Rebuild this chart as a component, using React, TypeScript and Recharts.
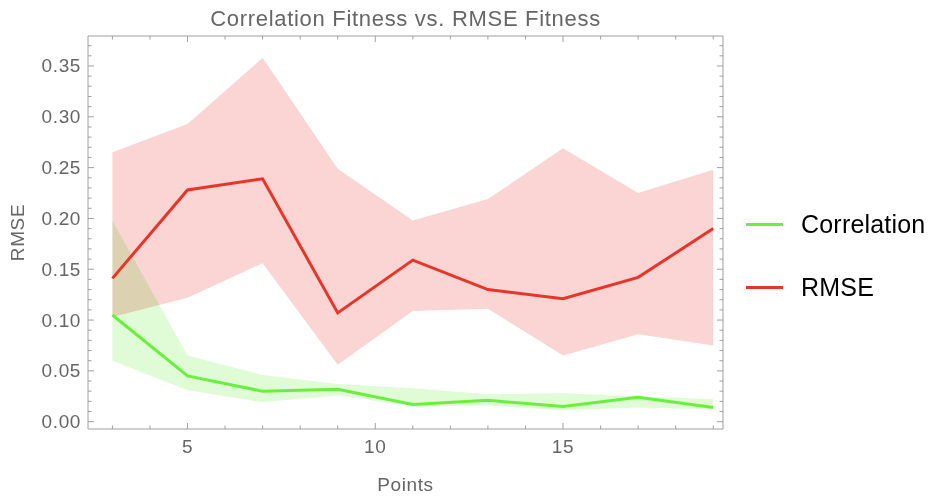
import React from 'react';
import { Area, ComposedChart, Line, XAxis, YAxis } from 'recharts';

const points = [3, 5, 7, 9, 11, 13, 15, 17, 19];

const rmseMean = [0.141, 0.228, 0.239, 0.107, 0.159, 0.13, 0.121, 0.142, 0.19];
const rmseHigh = [0.265, 0.293, 0.358, 0.249, 0.198, 0.219, 0.269, 0.225, 0.248];
const rmseLow = [0.103, 0.122, 0.156, 0.056, 0.109, 0.111, 0.065, 0.086, 0.075];

const corrMean = [0.105, 0.045, 0.03, 0.032, 0.017, 0.021, 0.015, 0.024, 0.014];
const corrHigh = [0.198, 0.065, 0.046, 0.037, 0.033, 0.027, 0.028, 0.025, 0.022];
const corrLow = [0.06, 0.031, 0.019, 0.026, 0.015, 0.016, 0.011, 0.014, 0.012];

const xTicks = [3, 4, 5, 6, 7, 8, 9, 10, 11, 12, 13, 14, 15, 16, 17, 18, 19];
const xMajor = [5, 10, 15];
const yMajor = [0, 0.05, 0.1, 0.15, 0.2, 0.25, 0.3, 0.35];
const yTicks = Array.from({ length: 38 }, (_, i) => Number((i / 100).toFixed(2)));

const legendItems = [
  { name: 'Correlation', color: '#68f03c' },
  { name: 'RMSE', color: '#e8352a' }
];

const data = points.map((x, i) => ({
  x,
  rmse: rmseMean[i],
  rmseBand: [rmseLow[i], rmseHigh[i]],
  corr: corrMean[i],
  corrBand: [corrLow[i], corrHigh[i]]
}));

const FONT = '"Liberation Sans", Arial, sans-serif';
const FRAME = '#a0a0a0';
const TEXT = '#666666';
const X_DOMAIN = [2.35, 19.26];
const Y_DOMAIN = [-0.0072, 0.3795];

const isYMajor = (v: number) => yMajor.some((m) => Math.abs(m - v) < 1e-6);

const tickText = { fill: TEXT, fontSize: 19, fontFamily: FONT, letterSpacing: 0.6 };

function BottomTick({ x, y, payload }: any) {
  const major = xMajor.includes(payload.value);
  return (
    <g>
      <line x1={x} x2={x} y1={y} y2={y - (major ? 6 : 3.5)} stroke={FRAME} />
      {major && (
        <text x={x} y={y + 17} textAnchor="middle" dominantBaseline="central" {...tickText}>
          {payload.value}
        </text>
      )}
    </g>
  );
}

function TopTick({ x, y, payload }: any) {
  const major = xMajor.includes(payload.value);
  return <line x1={x} x2={x} y1={y} y2={y + (major ? 6 : 3.5)} stroke={FRAME} />;
}

function LeftTick({ x, y, payload }: any) {
  const major = isYMajor(payload.value);
  return (
    <g>
      <line x1={x} x2={x + (major ? 6 : 3.5)} y1={y} y2={y} stroke={FRAME} />
      {major && (
        <text x={x - 7} y={y} textAnchor="end" dominantBaseline="central" {...tickText}>
          {payload.value.toFixed(2)}
        </text>
      )}
    </g>
  );
}

function RightTick({ x, y, payload }: any) {
  const major = isYMajor(payload.value);
  return <line x1={x} x2={x - (major ? 6 : 3.5)} y1={y} y2={y} stroke={FRAME} />;
}

export default function App() {
  return (
    <div style={{ position: 'absolute', left: 0, top: 0, width: 940, height: 500, background: '#fff', fontFamily: FONT }}>
      <style>{'.band-blend { mix-blend-mode: multiply; }'}</style>
      <div
        style={{
          position: 'absolute',
          left: 88,
          top: 5,
          width: 635,
          textAlign: 'center',
          fontSize: 22,
          letterSpacing: 0.7,
          lineHeight: '28px',
          color: TEXT
        }}
      >
        Correlation Fitness vs. RMSE Fitness
      </div>

      <ComposedChart width={940} height={500} data={data} margin={{ top: 35, right: 216, bottom: 1, left: 0 }}>
        <XAxis
          dataKey="x"
          type="number"
          domain={X_DOMAIN}
          allowDataOverflow
          ticks={xTicks}
          interval={0}
          tickSize={0}
          tickMargin={0}
          tick={<BottomTick />}
          height={70}
          stroke={FRAME}
          label={{
            content: ({ viewBox }: any) => (
              <text
                x={viewBox.x + viewBox.width / 2}
                y={viewBox.y + 55}
                textAnchor="middle"
                dominantBaseline="central"
                fill={TEXT}
                fontSize={19}
                letterSpacing={0.6}
                fontFamily={FONT}
              >
                Points
              </text>
            )
          }}
        />
        <XAxis
          xAxisId="top"
          orientation="top"
          dataKey="x"
          type="number"
          domain={X_DOMAIN}
          allowDataOverflow
          ticks={xTicks}
          interval={0}
          tickSize={0}
          tickMargin={0}
          tick={<TopTick />}
          height={1}
          stroke={FRAME}
        />
        <YAxis
          type="number"
          domain={Y_DOMAIN}
          allowDataOverflow
          ticks={yTicks}
          interval={0}
          tickSize={0}
          tickMargin={0}
          tick={<LeftTick />}
          width={88}
          stroke={FRAME}
          label={{
            content: ({ viewBox }: any) => {
              const cx = 17;
              const cy = viewBox.y + viewBox.height / 2;
              return (
                <text
                  x={cx}
                  y={cy}
                  transform={`rotate(-90 ${cx} ${cy})`}
                  textAnchor="middle"
                  dominantBaseline="central"
                  fill={TEXT}
                  fontSize={19}
                  letterSpacing={0.6}
                  fontFamily={FONT}
                >
                  RMSE
                </text>
              );
            }
          }}
        />
        <YAxis
          yAxisId="right"
          orientation="right"
          type="number"
          domain={Y_DOMAIN}
          allowDataOverflow
          ticks={yTicks}
          interval={0}
          tickSize={0}
          tickMargin={0}
          tick={<RightTick />}
          width={1}
          stroke={FRAME}
        />

        <Area type="linear" dataKey="rmseBand" stroke="none" fill="#fbd5d3" fillOpacity={1} isAnimationActive={false} />
        <Area
          className="band-blend"
          type="linear"
          dataKey="corrBand"
          stroke="none"
          fill="#e0fcd6"
          fillOpacity={1}
          isAnimationActive={false}
        />
        <Line type="linear" dataKey="rmse" stroke="#e8352a" strokeWidth={3} dot={false} isAnimationActive={false} />
        <Line type="linear" dataKey="corr" stroke="#68f03c" strokeWidth={3} dot={false} isAnimationActive={false} />
      </ComposedChart>

      {legendItems.map((item, i) => (
        <div
          key={item.name}
          style={{
            position: 'absolute',
            left: 746,
            top: 224 + i * 63 - 15,
            height: 30,
            display: 'flex',
            alignItems: 'center',
            fontSize: 25,
            letterSpacing: 0.2,
            color: '#000'
          }}
        >
          <span style={{ display: 'inline-block', width: 37, height: 3, background: item.color, marginRight: 18 }} />
          {item.name}
        </div>
      ))}
    </div>
  );
}
